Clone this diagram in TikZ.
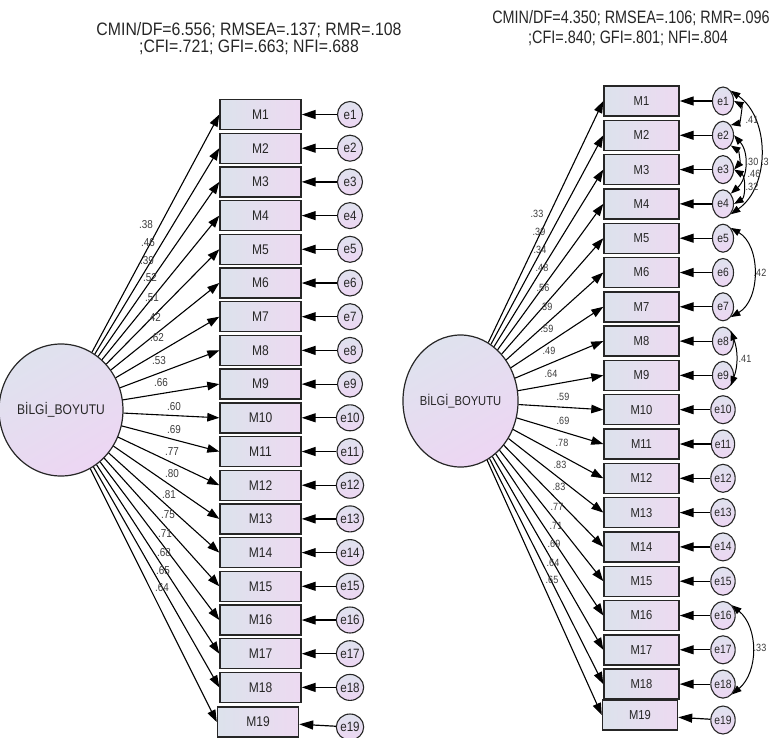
\documentclass[tikz,border=0pt]{standalone}
\usepackage{fontspec}
\setmainfont{Liberation Sans}
\newfontfamily\condfont[FakeStretch=0.86]{Liberation Sans}
\newfontfamily\hdrLfont[FakeStretch=0.88]{Liberation Sans}
\newfontfamily\hdrRfont[FakeStretch=0.80]{Liberation Sans}
\usetikzlibrary{arrows.meta,shapes.geometric,calc}

\definecolor{boxL}{HTML}{DCE2EC}
\definecolor{boxR}{HTML}{EDDAF1}
\definecolor{latA}{HTML}{DFE2EE}
\definecolor{latB}{HTML}{EDD6F3}
\definecolor{ink}{HTML}{262626}
\definecolor{coefc}{HTML}{3C3C3C}

\tikzset{
  obs/.style={draw=ink, line width=1.4pt, left color=boxL, right color=boxR,
    minimum height=30pt, inner sep=0pt, text=ink},
  obsL/.style={obs, minimum width=81pt, font=\condfont\fontsize{14}{15}\selectfont},
  obsR/.style={obs, minimum width=75pt, font=\condfont\fontsize{13}{14}\selectfont},
  err/.style={ellipse, draw=ink, line width=1.1pt, top color=latA, bottom color=latB,
    inner sep=0pt, text=ink},
  errL/.style={err, minimum width=25pt, minimum height=26pt, font=\condfont\fontsize{13.5}{14}\selectfont},
  errR/.style={err, minimum width=21pt, minimum height=28pt, font=\condfont\fontsize{12}{13}\selectfont},
  lat/.style={ellipse, draw=ink, line width=1.2pt, top color=latA, bottom color=latB,
    shading angle=30, inner sep=0pt, text=ink},
  load/.style={-{Triangle[length=12pt,width=8.5pt]}, line width=1.1pt, draw=black},
  resid/.style={-{Triangle[length=14pt,width=9pt]}, line width=1.2pt, draw=black},
  cov/.style={{Triangle[length=9.5pt,width=7pt]}-{Triangle[length=9.5pt,width=7pt]},
    line width=1pt, draw=black},
  coefL/.style={inner sep=0pt, text=coefc, font=\condfont\fontsize{11.5}{12}\selectfont},
  coefR/.style={inner sep=0pt, text=coefc, font=\condfont\fontsize{10.5}{11}\selectfont},
  hdrL/.style={inner sep=0pt, text=ink, font=\hdrLfont\fontsize{18}{19}\selectfont},
  hdrR/.style={inner sep=0pt, text=ink, font=\hdrRfont\fontsize{18}{19}\selectfont},
}

\begin{document}
\begin{tikzpicture}[x=1pt, y=-1pt]
\useasboundingbox (0,0) rectangle (771,737);

% fit indices of the two models
\node[hdrL] (hL1) at (249,30) {CMIN/DF=6.556; RMSEA=.137; RMR=.108};
\node[hdrL] (hL2) at (249,47) {;CFI=.721; GFI=.663; NFI=.688};
\node[hdrR] (hR1) at (631,18) {CMIN/DF=4.350; RMSEA=.106; RMR=.096};
\node[hdrR] (hR2) at (628,38) {;CFI=.840; GFI=.801; NFI=.804};

% ---------------- first model ----------------
\node[lat, minimum width=104pt, minimum height=132pt,
      font=\condfont\fontsize{14}{15}\selectfont] (LL) at (61,410) {BİLGİ\_BOYUTU};

\foreach \i in {1,...,18} {
  \pgfmathsetmacro\yy{114.5+(\i-1)*33.7}
  \node[obsL] (LM\i) at (260.5,\yy) {M\i};
  \node[errL] (Le\i) at (350,\yy) {e\i};
}
\node[obsL] (LM19) at (258,722) {M19};
\node[errL] (Le19) at (350,727) {e19};

\foreach \i in {1,...,19} {
  \draw[resid] (Le\i) -- (LM\i);
  \draw[load] (LL) -- (LM\i.west);
}

\foreach \val/\x/\y [count=\i] in {
  .38/146/225, .46/148/243, .39/147/261, .52/150/278, .51/152/298,
  .42/154/317, .62/157/338, .53/159/361, .66/161/383, .60/174/407,
  .69/174/430, .77/172/452, .80/172/474, .81/169/495, .75/168/515,
  .71/165/534, .68/164/553, .65/163/571, .64/162/588}
  \node[coefL] (Lc\i) at (\x,\y) {\val};

% ---------------- second model ----------------
\node[lat, minimum width=95pt, minimum height=132pt,
      font=\condfont\fontsize{13}{14}\selectfont] (RL) at (460.5,401) {BİLGİ\_BOYUTU};

\foreach \i in {1,...,18} {
  \pgfmathsetmacro\yy{101+(\i-1)*34.3}
  \node[obsR] (RM\i) at (641.5,\yy) {M\i};
  \node[errR] (Re\i) at (723,\yy) {e\i};
}
\node[obsR] (RM19) at (640,715) {M19};
\node[errR] (Re19) at (723,720) {e19};

\foreach \i in {1,...,19} {
  \draw[resid] (Re\i) -- (RM\i);
  \draw[load] (RL) -- (RM\i.west);
}

\foreach \val/\x/\y [count=\i] in {
  .33/537/214, .39/539/232, .34/540/250, .48/542/268, .56/543/288,
  .39/546/307, .59/547/329, .49/549/351, .64/551/374, .59/563/397,
  .69/563/421, .78/562/443, .83/560/465, .83/559/487, .77/557/507,
  .71/556/526, .69/554/544, .64/553/563, .65/552/580}
  \node[coefR] (Rc\i) at (\x,\y) {\val};

% correlated error terms
\draw[cov] (Re1.east) to[bend left=70] (Re2.north east);
\draw[cov] (Re2.south east) to[bend left=50] (Re3.east);
\draw[cov] (Re2.east) to[bend left=45] (Re4.north east);
\draw[cov] (Re3.east) to[bend left=60] (Re4.east);
\draw[cov] (Re1.north east) to[bend left=55] (Re4.south east);
\draw[cov] (Re5.north east) to[bend left=60] (Re7.south east);
\draw[cov] (Re8.north east) to[bend left=20] (Re9.south east);
\draw[cov] (Re16.north east) to[bend left=50] (Re18.south east);

\node[coefR] (k1) at (752,120) {.41};
\node[coefR] (k2) at (752,162) {.30};
\node[coefR, anchor=west] (k3) at (761,162) {.3};
\node[coefR] (k4) at (754,174) {.46};
\node[coefR] (k5) at (752,187) {.32};
\node[coefR] (k6) at (760,273) {.42};
\node[coefR] (k7) at (745,359) {.41};
\node[coefR] (k8) at (760,648) {.33};
\end{tikzpicture}
\end{document}
